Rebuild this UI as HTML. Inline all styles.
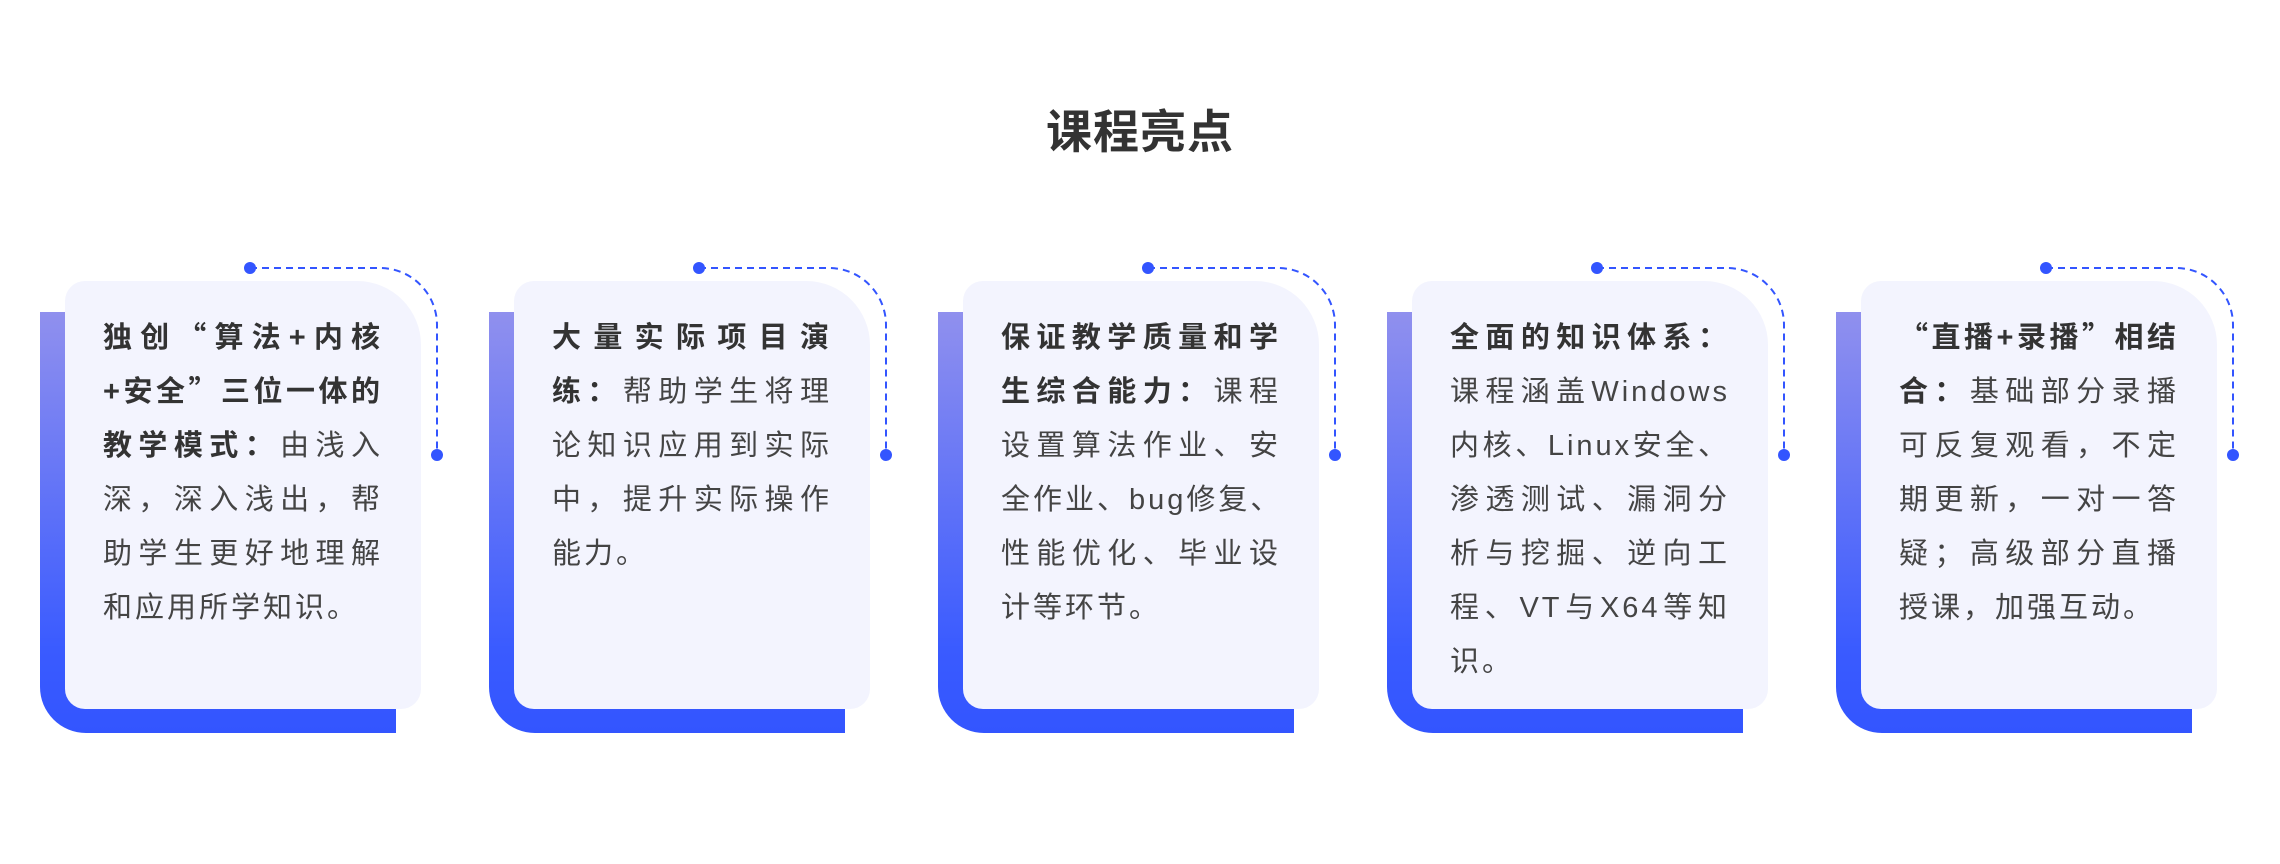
<!DOCTYPE html>
<html><head><meta charset="utf-8">
<style>
body{margin:0;width:2280px;height:864px;background:#fff;position:relative;overflow:hidden;font-family:"Liberation Sans","Noto Sans CJK SC",sans-serif;}
.title{position:absolute;left:0;width:2280px;top:100px;text-align:center;font-size:46px;font-weight:bold;color:#333;line-height:64px;letter-spacing:1px;}
.back{position:absolute;top:312px;width:356px;height:421px;border-radius:0 0 0 46px;background:linear-gradient(#9090ee,#3a5bff 80%,#3355ff);}
.front{position:absolute;top:281px;width:356px;height:428px;border-radius:20px 64px 20px 20px;background:#f3f4fe;}
.txt{position:absolute;top:311px;width:280px;font-size:29px;line-height:54px;color:#444;letter-spacing:3px;}
.txt div{text-align:justify;text-align-last:justify;white-space:nowrap;height:54px;overflow:visible;}
.txt div.l{text-align-last:left;}
.txt b{color:#333;}
.q{font-family:"Noto Sans CJK SC",sans-serif;line-height:1;}
svg{position:absolute;left:0;top:0;}
</style></head><body>
<div class="title">课程亮点</div>
<svg width="2280" height="864">
<g fill="none" stroke="#3355ff" stroke-width="2" stroke-dasharray="7 5">
<path d="M250 268 H380 A57 57 0 0 1 437 325 V455"/>
<path d="M699 268 H829 A57 57 0 0 1 886 325 V455"/>
<path d="M1148 268 H1278 A57 57 0 0 1 1335 325 V455"/>
<path d="M1597 268 H1727 A57 57 0 0 1 1784 325 V455"/>
<path d="M2046 268 H2176 A57 57 0 0 1 2233 325 V455"/>
</g>
<g fill="#3355ff">
<circle cx="250" cy="268" r="6"/><circle cx="437" cy="455" r="6"/>
<circle cx="699" cy="268" r="6"/><circle cx="886" cy="455" r="6"/>
<circle cx="1148" cy="268" r="6"/><circle cx="1335" cy="455" r="6"/>
<circle cx="1597" cy="268" r="6"/><circle cx="1784" cy="455" r="6"/>
<circle cx="2046" cy="268" r="6"/><circle cx="2233" cy="455" r="6"/>
</g>
</svg>

<div class="back" style="left:40px"></div><div class="front" style="left:65px"></div>
<div class="back" style="left:489px"></div><div class="front" style="left:514px"></div>
<div class="back" style="left:938px"></div><div class="front" style="left:963px"></div>
<div class="back" style="left:1387px"></div><div class="front" style="left:1412px"></div>
<div class="back" style="left:1836px"></div><div class="front" style="left:1861px"></div>

<div class="txt" style="left:103px">
<div><b>独创<span class="q">“</span>算法+内核</b></div>
<div><b>+安全<span class="q">”</span>三位一体的</b></div>
<div><b>教学模式：</b>由浅入</div>
<div>深，深入浅出，帮</div>
<div>助学生更好地理解</div>
<div class="l">和应用所学知识。</div>
</div>

<div class="txt" style="left:552px">
<div><b>大量实际项目演</b></div>
<div><b>练：</b>帮助学生将理</div>
<div>论知识应用到实际</div>
<div>中，提升实际操作</div>
<div class="l">能力。</div>
</div>

<div class="txt" style="left:1001px">
<div><b>保证教学质量和学</b></div>
<div><b>生综合能力：</b>课程</div>
<div>设置算法作业、安</div>
<div>全作业、bug修复、</div>
<div>性能优化、毕业设</div>
<div class="l">计等环节。</div>
</div>

<div class="txt" style="left:1450px">
<div><b>全面的知识体系：</b></div>
<div>课程涵盖Windows</div>
<div>内核、Linux安全、</div>
<div>渗透测试、漏洞分</div>
<div>析与挖掘、逆向工</div>
<div>程、VT与X64等知</div>
<div class="l">识。</div>
</div>

<div class="txt" style="left:1899px">
<div><b><span class="q">“</span>直播+录播<span class="q">”</span>相结</b></div>
<div><b>合：</b>基础部分录播</div>
<div>可反复观看，不定</div>
<div>期更新，一对一答</div>
<div>疑；高级部分直播</div>
<div class="l">授课，加强互动。</div>
</div>
</body></html>
